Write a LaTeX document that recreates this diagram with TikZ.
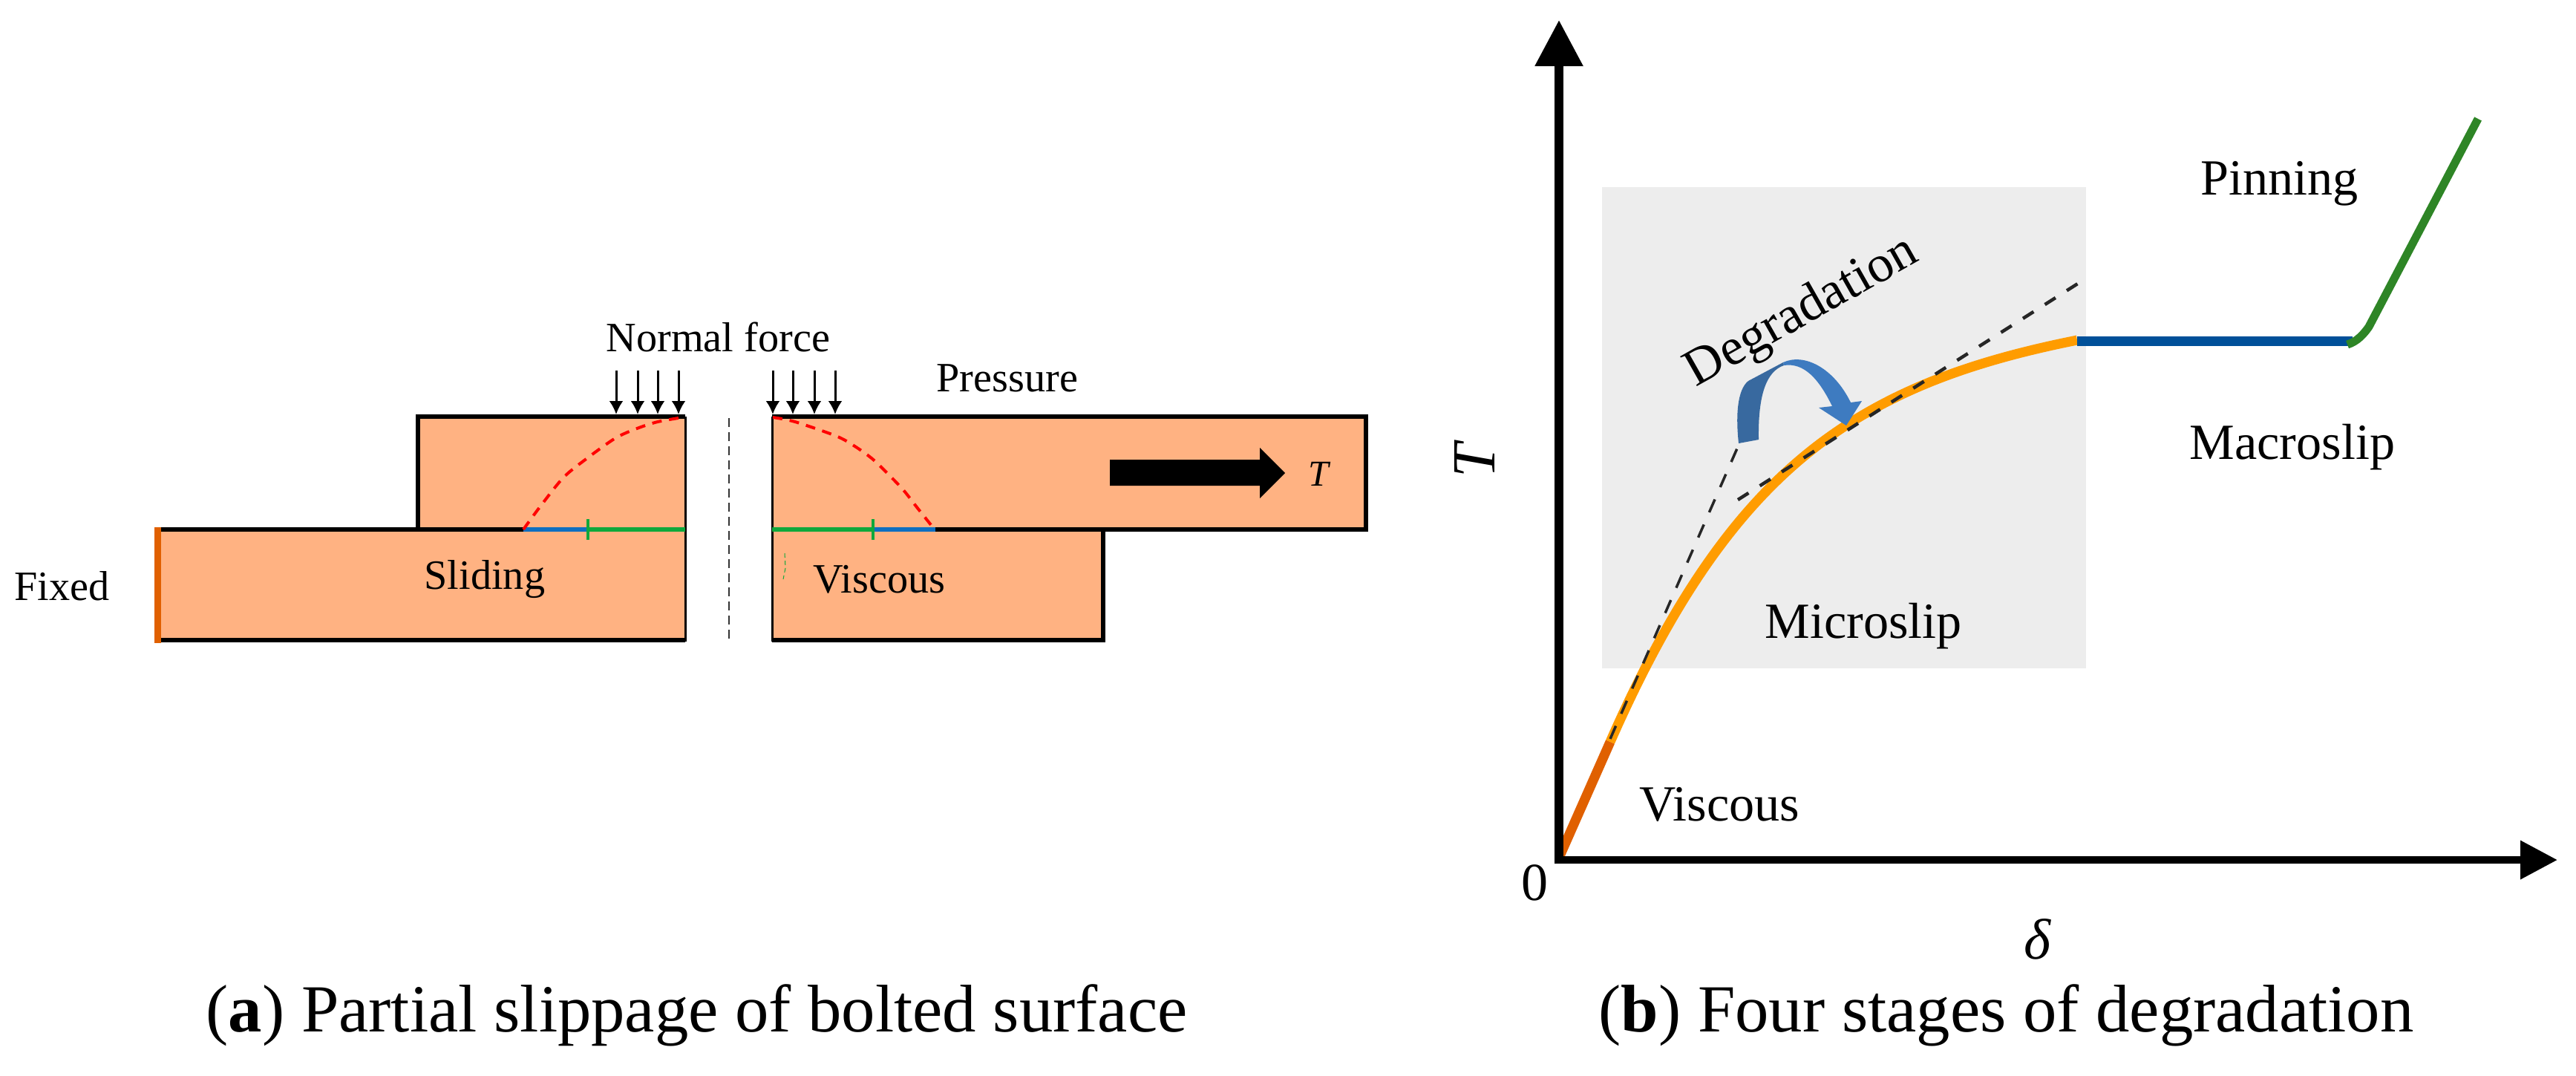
\documentclass[tikz,border=0pt]{standalone}
\usepackage{fontspec}
\setmainfont{Liberation Serif}
\usepackage{xcolor}
\usepackage{tikz}
\usetikzlibrary{positioning,arrows.meta}
\definecolor{plate}{HTML}{FFB282}
\definecolor{fixedc}{HTML}{E06000}
\definecolor{slipblue}{HTML}{0F6FC0}
\definecolor{stickgreen}{HTML}{0FA83C}
\definecolor{microbg}{HTML}{EDEDED}
\definecolor{microc}{HTML}{FF9C00}
\definecolor{macroc}{HTML}{005099}
\definecolor{pinc}{HTML}{2E8526}
\definecolor{bendl}{HTML}{38699F}
\definecolor{bendr}{HTML}{3E7BC0}
\newcommand{\fsz}[1]{\fontsize{#1}{#1}\selectfont}
\tikzset{
  lab/.style={inner sep=0pt, anchor=base west, font=\fsz{16pt}},
  biglab/.style={inner sep=0pt, anchor=base west, font=\fsz{19.4pt}},
  captxt/.style={inner sep=0pt, anchor=base west, font=\fsz{25.8pt}},
  force/.style={-{Latex[length=1.8mm,width=1.9mm]}, line width=0.3mm},
  redcurve/.style={red, line width=0.4mm, dash pattern=on 1.3mm off 1.0mm},
  tangent/.style={black!85, line width=0.45mm, dash pattern=on 1.7mm off 1.8mm},
  stage/.style={line width=1.3mm}
}
\begin{document}
\begin{tikzpicture}[x=1cm,y=-1cm]
  \useasboundingbox (0,0) rectangle (34.70,14.48);

  % (a) bolted surface, left half
  \fill[plate] (5.63,5.61) -- (9.23,5.61) -- (9.23,8.64) -- (2.10,8.64) -- (2.10,7.13) -- (5.63,7.13) -- cycle;
  \draw[line width=0.6mm] (2.10,7.13) -- (7.05,7.13);
  \draw[line width=0.6mm] (2.10,8.62) -- (9.23,8.62);
  \draw[line width=0.6mm] (5.63,7.13) -- (5.63,5.61) -- (9.23,5.61);
  \draw[line width=0.3mm] (9.23,5.61) -- (9.23,8.64);
  \draw[fixedc, line width=0.9mm] (2.12,7.10) -- (2.12,8.66);
  \draw[slipblue, line width=0.55mm] (7.05,7.13) -- (7.92,7.13);
  \draw[stickgreen, line width=0.55mm] (7.92,7.13) -- (9.23,7.13);
  \draw[stickgreen, line width=0.4mm] (7.92,6.99) -- (7.92,7.27);
  \draw[redcurve] plot[smooth] coordinates {(7.05,7.13) (7.27,6.83) (7.59,6.43) (7.91,6.17) (8.29,5.90) (8.58,5.77) (8.86,5.68) (9.20,5.62)};
  \foreach \fx in {8.30,8.59,8.86,9.14}
    \draw[force] (\fx,4.99) -- (\fx,5.58);
  \draw[black!80, line width=0.2mm, dash pattern=on 1.2mm off 0.7mm] (9.82,5.63) -- (9.82,8.65);

  % (a) right half
  \fill[plate] (10.40,5.61) -- (18.40,5.61) -- (18.40,7.13) -- (14.86,7.13) -- (14.86,8.64) -- (10.40,8.64) -- cycle;
  \draw[line width=0.6mm] (12.60,7.13) -- (18.40,7.13) -- (18.40,5.61) -- (10.40,5.61);
  \draw[line width=0.3mm] (10.40,5.61) -- (10.40,8.64);
  \draw[line width=0.6mm] (10.40,8.62) -- (14.86,8.62) -- (14.86,7.13);
  \draw[stickgreen, line width=0.55mm] (10.40,7.13) -- (11.76,7.13);
  \draw[slipblue, line width=0.55mm] (11.76,7.13) -- (12.60,7.13);
  \draw[stickgreen, line width=0.4mm] (11.76,6.99) -- (11.76,7.27);
  \draw[redcurve] plot[smooth] coordinates {(10.41,5.62) (10.71,5.68) (11.26,5.87) (11.50,6.00) (11.74,6.17) (11.95,6.37) (12.17,6.60) (12.35,6.83) (12.59,7.13)};
  \draw[stickgreen, line width=0.1mm, dash pattern=on 0.6mm off 0.4mm] (10.57,7.45) -- (10.58,7.65) -- (10.55,7.80);
  \foreach \fx in {10.41,10.68,10.97,11.25}
    \draw[force] (\fx,4.99) -- (\fx,5.58);
  \fill[black] (14.95,6.19) -- (16.97,6.19) -- (16.97,6.03) -- (17.31,6.37) -- (16.97,6.71) -- (16.97,6.54) -- (14.95,6.54) -- cycle;

  \node[lab] (nf) at (8.16,4.73) {Normal force};
  \node[lab] (pr) at (12.61,5.27) {Pressure};
  \node[lab] (fx) at (0.19,8.08) {Fixed};
  \node[lab] (sl) at (5.71,7.93) {Sliding};
  \node[lab] (vi) at (10.95,7.98) {Viscous};
  \node[inner sep=0pt, anchor=base west, font=\fsz{14pt}\itshape] (tf) at (17.62,6.54) {T};

  % (b) four stages
  \fill[microbg] (21.58,2.52) rectangle (28.10,9.00);
  \coordinate (orig) at (21.00,11.58);
  \coordinate (ytop) at (21.00,0.27);
  \coordinate (xend) at (34.45,11.58);
  \draw[stage, fixedc] (21.00,11.55) -- (21.69,9.99);
  \draw[stage, microc] (21.69,9.99) .. controls (23.31,6.32) and (24.97,5.18) .. (27.98,4.58);
  \draw[stage, macroc] (27.98,4.595) -- (31.69,4.595);
  \draw[line width=1.1mm, pinc] (31.62,4.64) .. controls (31.75,4.60) and (31.84,4.50) .. (31.91,4.40) -- (33.38,1.60);
  \draw[line width=1mm, -{Triangle[length=5mm,width=5mm]}] ([xshift=-0.6mm]orig) -- (xend);
  \draw[line width=1.2mm, -{Triangle[length=6.2mm,width=6.2mm]}] ([yshift=-0.5mm]orig) -- (ytop);
  \draw[tangent, line width=0.35mm, dash pattern=on 1.9mm off 1.8mm] (21.69,9.95) -- (23.43,5.97);
  \draw[tangent] (23.41,6.73) -- (28.05,3.78);
  \fill[bendl] (23.42,5.97) .. controls (23.38,5.60) and (23.40,5.25) .. (23.55,5.13) -- (24.02,4.88) -- (24.03,4.92) .. controls (23.80,5.00) and (23.68,5.30) .. (23.69,5.92) -- cycle;
  \fill[bendr] (24.02,4.88) .. controls (24.30,4.75) and (24.70,4.95) .. (24.93,5.42) -- (25.08,5.40) -- (24.87,5.73) -- (24.50,5.49) -- (24.68,5.47) .. controls (24.50,5.10) and (24.30,4.88) .. (24.03,4.92) -- cycle;

  \node[biglab, font=\fsz{20pt}, rotate=29.5, anchor=base] (dg) at (24.36,4.36) {Degradation};
  \node[biglab] (ms) at (23.77,8.59) {Microslip};
  \node[biglab] (pn) at (29.64,2.62) {Pinning};
  \node[biglab] (mc) at (29.49,6.18) {Macroslip};
  \node[biglab] (vb) at (22.08,11.05) {Viscous};
  \node[biglab, font=\fsz{20.5pt}] (zr) at (20.49,12.12) {0};
  \node[inner sep=0pt, font=\fsz{23.5pt}\itshape, rotate=90] (ty) at (19.86,6.21) {T};
  \node[inner sep=0pt, font=\fsz{22pt}\itshape] (dl) at (27.44,12.65) {δ};

  % captions
  \node[captxt] (ca) at (2.77,13.89) {(\textbf{a}) Partial slippage of bolted surface};
  \node[captxt] (cb) at (21.53,13.89) {(\textbf{b}) Four stages of degradation};
\end{tikzpicture}
\end{document}
